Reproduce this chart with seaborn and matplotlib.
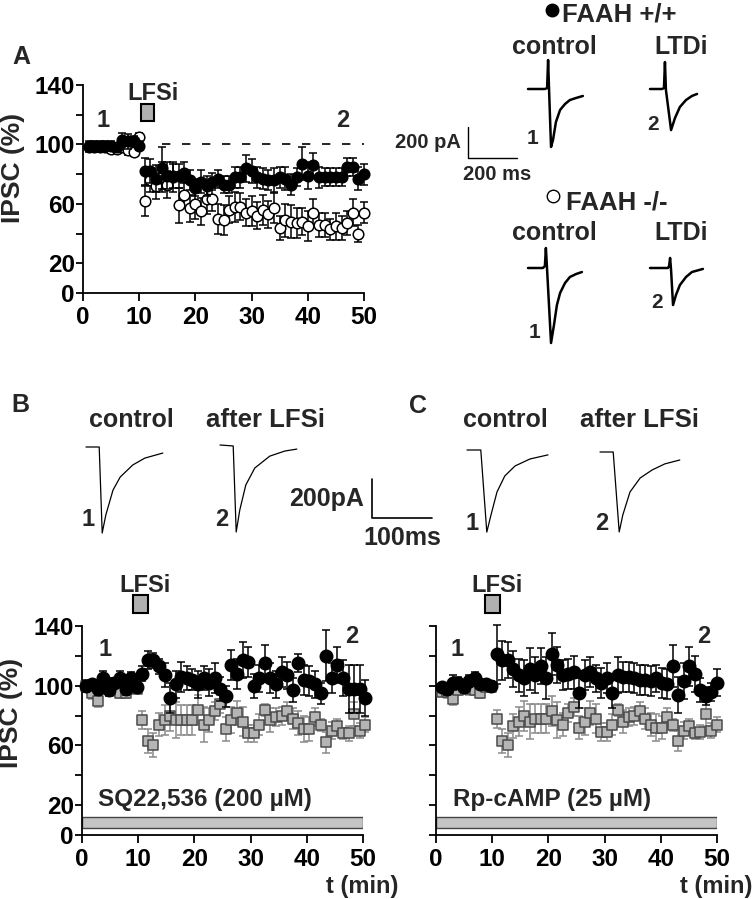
import numpy as np
import matplotlib
matplotlib.use("Agg")
import matplotlib.pyplot as plt
from matplotlib.patches import Rectangle
import seaborn as sns

sns.set_theme(style="ticks")
plt.rcParams['font.family'] = ['Liberation Sans', 'DejaVu Sans']
plt.rcParams['font.weight'] = 'bold'
plt.rcParams['axes.labelweight'] = 'bold'

# ---------------- panel A: FAAH +/+ (filled) vs FAAH -/- (open), IPSC %
wt_a = [99, 99, 99, 99, 99, 98, 103, 102, 102, 99,
        82, 82, 77, 84, 79, 79, 79, 81, 76, 71,
        75, 72, 75, 77, 73, 73, 78, 78, 84, 82,
        78, 77, 76, 76, 78, 77, 73, 78, 87, 79,
        86, 78, 78, 78, 78, 78, 85, 85, 77, 80]
wt_a_err = [3, 3, 3, 3, 3, 3, 5, 5, 4, 3,
            9, 8, 9, 14, 9, 8, 8, 7, 7, 6,
            8, 7, 6, 6, 6, 6, 7, 7, 9, 8,
            7, 7, 7, 8, 7, 8, 7, 6, 11, 9,
            8, 7, 6, 6, 6, 6, 6, 6, 8, 7]
ko_a = [98, 98, 98, 98, 97, 97, 98, 96, 95, 105,
        62, 76, 72, 78, 73, 78, 59, 66, 57, 60,
        55, 63, 63, 50, 49, 56, 58, 58, 54, 55,
        52, 56, 53, 57, 44, 49, 48, 47, 48, 45,
        54, 46, 46, 43, 45, 44, 47, 54, 40, 54]
ko_a_err = [3, 3, 3, 3, 3, 3, 3, 3, 3, 3,
            10, 8, 9, 10, 9, 10, 12, 9, 9, 10,
            9, 10, 8, 10, 10, 9, 10, 9, 9, 10,
            9, 10, 9, 10, 8, 11, 11, 10, 9, 10,
            9, 8, 8, 7, 9, 8, 8, 9, 6, 7]

# ---------------- panel B: SQ22,536
b_ctrl = [100, 101, 98, 105, 97, 102, 105, 98, 105, 99,
          108, 117, 117, 113, 107, 92, 101, 106, 105, 104,
          101, 105, 102, 105, 98, 93, 114, 108, 117, 116,
          100, 105, 115, 105, 101, 109, 107, 97, 115, 104,
          103, 101, 95, 120, 105, 114, 105, 98, 98, 98, 92]
b_ctrl_err = [4, 3, 4, 5, 4, 3, 5, 4, 4, 3,
              5, 6, 5, 5, 8, 10, 9, 10, 8, 7,
              9, 8, 9, 10, 8, 7, 10, 10, 12, 10,
              8, 9, 12, 10, 9, 10, 9, 8, 6, 10,
              10, 9, 7, 17, 10, 12, 12, 16, 16, 16, 12]
b_drug = [100, 95, 90, 100, 98, 97, 95, 95, 99, 98,
          77, 63, 60, 74, 77, 80, 77, 77, 77, 77,
          84, 74, 77, 83, 88, 71, 77, 82, 76, 68,
          68, 74, 84, 77, 79, 80, 83, 78, 75, 71,
          71, 79, 74, 62, 70, 73, 68, 68, 81, 70, 74]
b_drug_err = [3, 4, 4, 3, 3, 4, 3, 3, 3, 3,
              6, 8, 8, 8, 10, 10, 12, 10, 10, 10,
              10, 12, 8, 6, 6, 8, 9, 8, 10, 6,
              6, 7, 4, 8, 6, 6, 6, 7, 8, 9,
              8, 6, 4, 7, 6, 5, 4, 5, 8, 5, 5]

# ---------------- panel C: Rp-cAMP
c_ctrl = [99, 98, 102, 102, 99, 103, 105, 101, 101, 100,
          121, 117, 117, 111, 107, 105, 111, 107, 113, 105,
          121, 114, 107, 108, 109, 95, 107, 109, 105, 102,
          105, 95, 107, 106, 106, 105, 104, 104, 103, 105,
          102, 101, 113, 94, 103, 113, 108, 97, 93, 96, 102]
c_ctrl_err = [3, 4, 5, 4, 4, 4, 4, 3, 3, 3,
              20, 13, 12, 12, 11, 12, 14, 12, 12, 14,
              14, 12, 10, 10, 11, 10, 10, 10, 9, 10,
              10, 10, 12, 10, 10, 10, 10, 10, 10, 9,
              10, 10, 14, 12, 12, 13, 12, 8, 6, 6, 9]
c_drug = [96, 96, 91, 97, 99, 98, 97, 95, 99, 99,
          78, 63, 60, 73, 76, 80, 76, 78, 78, 78,
          83, 77, 74, 82, 86, 72, 76, 82, 78, 69,
          69, 74, 84, 76, 79, 80, 83, 78, 74, 72,
          72, 79, 74, 63, 70, 73, 68, 69, 81, 70, 74]
c_drug_err = [3, 4, 4, 3, 3, 4, 3, 3, 3, 3,
              6, 8, 8, 8, 10, 10, 12, 10, 10, 10,
              10, 12, 8, 6, 6, 8, 9, 8, 10, 6,
              6, 7, 4, 8, 6, 6, 6, 7, 8, 9,
              8, 6, 4, 7, 6, 5, 4, 5, 8, 5, 5]

# ---------------- example traces (time ms, current pA)
a_wt_ctl_t = [0, 69, 78, 82, 86, 94, 102, 114, 131, 151, 171, 196, 224]
a_wt_ctl_i = [0, 0, 6, 187, -6, -374, -329, -213, -135, -97, -71, -58, -45]
a_wt_ltd_t = [0, 49, 57, 61, 65, 86, 102, 122, 147, 171, 192]
a_wt_ltd_i = [0, 0, 6, 174, -6, -265, -187, -116, -71, -45, -32]
a_ko_ctl_t = [0, 61, 69, 73, 78, 94, 106, 118, 131, 151, 171, 196, 220]
a_ko_ctl_i = [0, 0, 13, 129, -13, -484, -368, -239, -161, -97, -58, -39, -26]
a_ko_ltd_t = [0, 73, 78, 82, 86, 94, 106, 122, 147, 171, 216]
a_ko_ltd_i = [0, 0, 13, 65, -13, -239, -174, -110, -58, -26, -6]
b_ctl_t = [0, 20, 22, 27, 33, 45, 57, 78, 98, 128]
b_ctl_i = [0, 0, 0, -441, -349, -221, -154, -92, -57, -31]
b_ltd_t = [0, 22, 27, 33, 43, 58, 83, 108, 128]
b_ltd_i = [0, -5, -446, -333, -205, -118, -57, -31, -21]
c_ctl_t = [0, 23, 33, 40, 50, 63, 80, 105, 135]
c_ctl_i = [0, 0, -421, -333, -215, -133, -82, -46, -25]
c_ltd_t = [0, 22, 32, 38, 50, 67, 87, 108, 133]
c_ltd_i = [0, 0, -410, -323, -205, -133, -92, -61, -41]

W, H = 754, 899
fig = plt.figure(figsize=(W / 100, H / 100), dpi=100)

# overlay in pixel coordinates for texts and traces
ov = fig.add_axes([0, 0, 1, 1])
ov.set_xlim(0, W)
ov.set_ylim(H, 0)
ov.axis('off')


def px_axes(l, t, r, b):
    return fig.add_axes([l / W, 1 - b / H, (r - l) / W, (b - t) / H])


def setup(ax, ylabels=True):
    ax.set_xlim(0, 50)
    ax.set_ylim(0, 140)
    ax.set_xticks(range(0, 51, 10))
    ax.set_yticks(range(0, 141, 20))
    if ylabels:
        ax.set_yticklabels(['0', '20', '', '60', '', '100', '', '140'])
    else:
        ax.set_yticklabels([])
    sns.despine(ax=ax)
    for s in ['left', 'bottom']:
        ax.spines[s].set_linewidth(1.3)
        ax.spines[s].set_color('black')
    ax.tick_params(axis='x', length=6, width=1.3, labelsize=17.5, pad=3, colors='black')
    ax.tick_params(axis='y', length=5, width=1.3, labelsize=17.5, pad=1, colors='black')
    ax.patch.set_alpha(0)


def series(ax, x, y, err, kind, size):
    if kind == 'filled':
        fc, ec, erc, mk, z = 'black', 'black', 'black', 'o', 5
    elif kind == 'open':
        fc, ec, erc, mk, z = 'white', 'black', 'black', 'o', 3
    else:
        fc, ec, erc, mk, z = '#b5b5b5', '#4a4a4a', '#8a8a8a', 's', 3
    ax.errorbar(x, y, yerr=err, fmt='none', ecolor=erc, elinewidth=1.1,
                capsize=3, capthick=1.1, zorder=z - 1, clip_on=False)
    sns.scatterplot(x=x, y=y, ax=ax, marker=mk, s=size, color=fc, edgecolor=ec,
                    linewidth=1.1, zorder=z, clip_on=False, legend=False)


def lfsi(ax, x0, y0, w, h, tx, ty):
    ax.add_patch(Rectangle((x0, y0), w, h, fc='#b0b0b0', ec='black', lw=1.5,
                           clip_on=False, zorder=6))
    ax.text(tx, ty, 'LFSi', fontsize=17, ha='center', va='center', clip_on=False)


def trace(t, i, x0, y0, sx, sy, lw):
    ov.plot(x0 + np.array(t) * sx, y0 - np.array(i) * sy, color='black', lw=lw)


# ---------------- panel A
axA = px_axes(83, 85, 364, 293)
setup(axA)
xa = np.arange(1, len(wt_a) + 1)
series(axA, xa, ko_a, ko_a_err, 'open', 58)
series(axA, xa, wt_a, wt_a_err, 'filled', 58)
axA.plot([14, 50], [100, 100], color='black', lw=1.2, ls=(0, (5, 7)))
lfsi(axA, 10.4, 116, 2.3, 11, 12.5, 134)
axA.text(3.6, 116, '1', fontsize=17, ha='center', va='center')
axA.text(46.3, 116, '2', fontsize=17, ha='center', va='center')
axA.set_ylabel('IPSC (%)', fontsize=19)
axA.yaxis.set_label_coords(-0.205, 0.60)

# ---------------- panel B
axB = px_axes(82, 626, 363, 835)
setup(axB)
xb = np.linspace(0.8, 50.4, len(b_ctrl))
series(axB, xb, b_drug, b_drug_err, 'square', 55)
series(axB, xb, b_ctrl, b_ctrl_err, 'filled', 80)
axB.add_patch(Rectangle((0, 4.7), 50, 7.4, fc='#c4c4c4', ec='#444444', lw=1))
axB.text(2.8, 24, 'SQ22,536 (200 µM)', fontsize=17.5, ha='left', va='center')
lfsi(axB, 9.1, 148.7, 2.6, 12, 11.2, 167)
axB.text(4.1, 124, '1', fontsize=17, ha='center', va='center')
axB.text(48, 133, '2', fontsize=17, ha='center', va='center')
axB.set_ylabel('IPSC (%)', fontsize=19)
axB.yaxis.set_label_coords(-0.21, 0.585)

# ---------------- panel C
axC = px_axes(436, 626, 717, 835)
setup(axC, ylabels=False)
xc = np.linspace(1.0, 50.0, len(c_ctrl))
series(axC, xc, c_drug, c_drug_err, 'square', 55)
series(axC, xc, c_ctrl, c_ctrl_err, 'filled', 80)
axC.add_patch(Rectangle((0, 4.7), 50, 7.4, fc='#c4c4c4', ec='#444444', lw=1))
axC.text(3.0, 24, 'Rp-cAMP (25 µM)', fontsize=17.5, ha='left', va='center')
lfsi(axC, 8.7, 148.7, 2.6, 12, 10.9, 167)
axC.text(3.7, 124, '1', fontsize=17, ha='center', va='center')
axC.text(47.6, 133, '2', fontsize=17, ha='center', va='center')

# ---------------- overlay texts
def txt(x, y, s, size, ha='center'):
    ov.text(x, y, s, fontsize=size, ha=ha, va='center')

txt(21, 57, 'A', 18)
txt(20, 405, 'B', 18)
txt(418, 406, 'C', 18)
txt(398, 886, 't (min)', 17, ha='right')
txt(752, 886, 't (min)', 17, ha='right')

# panel A traces (200 pA / 200 ms scale)
sxa, sya = 49 / 200, 31 / 200
ov.plot([552], [10], 'o', color='black', ms=9)
txt(562, 15, 'FAAH +/+', 18.5, ha='left')
txt(554, 47, 'control', 18)
txt(681, 47, 'LTDi', 18)
trace(a_wt_ctl_t, a_wt_ctl_i, 528, 89, sxa, sya, 1.8)
trace(a_wt_ltd_t, a_wt_ltd_i, 650, 89, sxa, sya, 1.8)
txt(533, 138, '1', 15)
txt(653, 125, '2', 15)
ov.plot([468, 468, 468 + 200 * sxa], [158 - 200 * sya, 158, 158], color='black', lw=1)
txt(461, 143, '200 pA', 14.5, ha='right')
txt(497, 174, '200 ms', 14.5)
ov.plot([553], [196], 'o', mfc='white', mec='black', ms=9, mew=1)
txt(566, 202, 'FAAH -/-', 18.5, ha='left')
txt(554, 233, 'control', 18)
txt(681, 233, 'LTDi', 18)
trace(a_ko_ctl_t, a_ko_ctl_i, 528, 268, sxa, sya, 1.8)
trace(a_ko_ltd_t, a_ko_ltd_i, 650, 268, sxa, sya, 1.8)
txt(535, 333, '1', 15)
txt(657, 302, '2', 15)

# panel B / C traces (200 pA / 100 ms scale)
sxb, syb = 60 / 100, 39 / 200
txt(131, 420, 'control', 18)
txt(266, 420, 'after LFSi', 18.5)
trace(b_ctl_t, b_ctl_i, 86, 447, sxb, syb, 0.9)
trace(b_ltd_t, b_ltd_i, 220, 445, sxb, syb, 0.9)
txt(88, 520, '1', 17)
txt(222, 520, '2', 17)
ov.plot([372, 372, 372 + 100 * sxb], [518 - 200 * syb, 518, 518], color='black', lw=1.2)
txt(364, 499, '200pA', 18, ha='right')
txt(402, 538, '100ms', 18)
txt(505, 420, 'control', 18)
txt(640, 420, 'after LFSi', 18.5)
trace(c_ctl_t, c_ctl_i, 467, 450, sxb, syb, 0.9)
trace(c_ltd_t, c_ltd_i, 600, 452, sxb, syb, 0.9)
txt(472, 523, '1', 17)
txt(602, 523, '2', 17)

fig.savefig('out.png', dpi=100)
